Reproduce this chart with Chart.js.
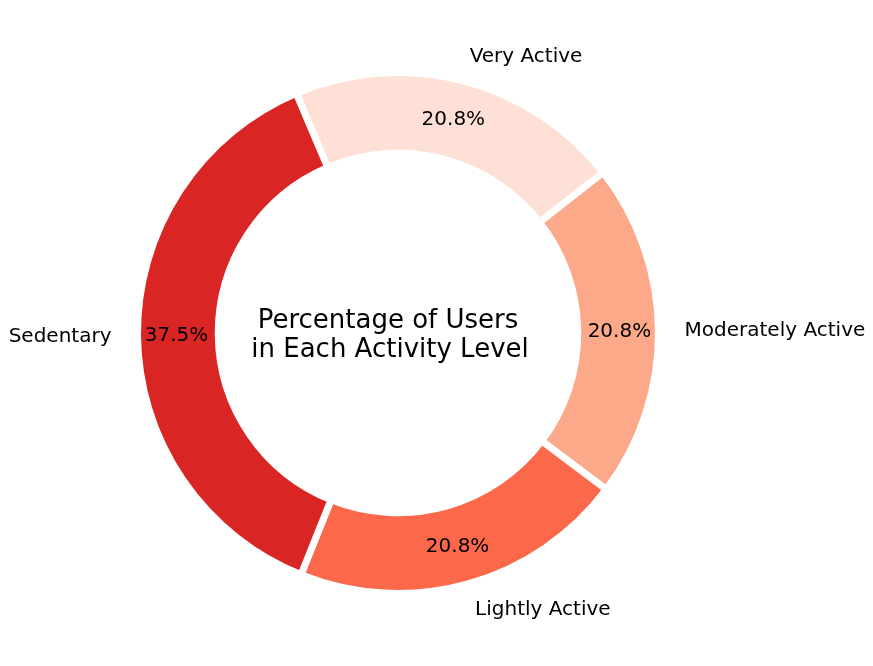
<!DOCTYPE html>
<html>
<head>
<meta charset="utf-8">
<script src="https://cdn.jsdelivr.net/npm/chart.js@4"></script>
<style>
  html, body { margin: 0; padding: 0; background: #fff; }
  #wrap { width: 873px; height: 666px; }
</style>
</head>
<body>
<div id="wrap"><canvas id="activityChart" width="873" height="666"></canvas></div>
<script>
// data (chart order = clockwise from the top-left gap)
const activityLevels = ['Very Active', 'Moderately Active', 'Lightly Active', 'Sedentary'];
const userShares = [20.8, 20.8, 20.8, 37.5];
const sliceColors = ['#fee0d6', '#fca98a', '#fb694a', '#d92523'];
const centerTitle = ['Percentage of Users', 'in Each Activity Level'];

const FONT = '"DejaVu Sans", sans-serif';
const EDGE = 7;

// draws the outside labels, the percentages and the centre title
const donutText = {
  id: 'donutText',
  afterDatasetsDraw(chart) {
    const ctx = chart.ctx;
    const meta = chart.getDatasetMeta(0);
    const total = userShares.reduce((a, b) => a + b, 0);
    let cx = 0, cy = 0;
    ctx.save();
    ctx.fillStyle = '#000';
    meta.data.forEach((arc, i) => {
      const p = arc.getProps(['x', 'y', 'startAngle', 'endAngle', 'outerRadius'], true);
      cx = p.x; cy = p.y;
      const mid = (p.startAngle + p.endAngle) / 2;
      const cos = Math.cos(mid), sin = Math.sin(mid);

      ctx.font = '20px ' + FONT;
      ctx.textBaseline = 'middle';
      // category label at 1.1 R
      const lr = p.outerRadius * 1.1;
      ctx.textAlign = cos > 0 ? 'left' : 'right';
      ctx.fillText(activityLevels[i], p.x + lr * cos, p.y + lr * sin + 1);

      // percentage at 0.85 R
      const pr = p.outerRadius * 0.85;
      ctx.textAlign = 'center';
      const pct = (userShares[i] / total * 100).toFixed(1) + '%';
      ctx.fillText(pct, p.x + pr * cos, p.y + pr * sin + 1);
    });

    ctx.font = '26px ' + FONT;
    ctx.textAlign = 'center';
    ctx.textBaseline = 'alphabetic';
    ctx.fillText(centerTitle[0], cx - 10, cy - 5);
    ctx.fillText(centerTitle[1], cx - 8, cy + 24);
    ctx.restore();
  }
};

new Chart(document.getElementById('activityChart'), {
  type: 'doughnut',
  data: {
    labels: activityLevels,
    datasets: [{
      data: userShares,
      backgroundColor: sliceColors,
      borderColor: '#ffffff',
      borderWidth: EDGE,
      borderJoinStyle: 'miter',
      hoverOffset: 0
    }]
  },
  options: {
    responsive: false,
    animation: false,
    rotation: -23,
    cutout: '69%',
    layout: {
      padding: { left: 134, right: 211, top: 69, bottom: 69 }
    },
    events: [],
    plugins: {
      legend: { display: false },
      tooltip: { enabled: false }
    }
  },
  plugins: [donutText]
});
</script>
</body>
</html>
